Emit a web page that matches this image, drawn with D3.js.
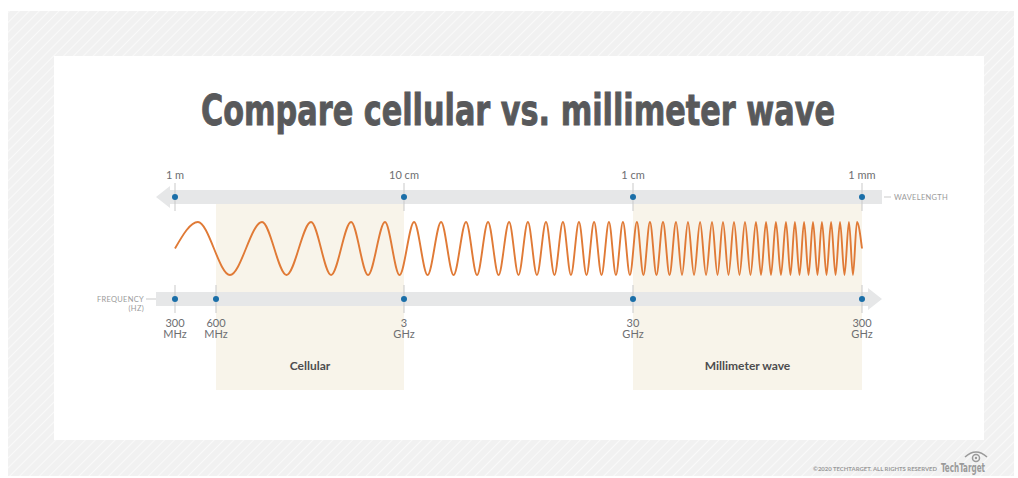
<!DOCTYPE html>
<html><head><meta charset="utf-8">
<script src="https://cdn.jsdelivr.net/npm/d3@7"></script>
<style>html,body{margin:0;padding:0;background:#fff;}svg{display:block;}</style>
</head><body>
<script>
// ---- data ----
const title = "Compare cellular vs. millimeter wave";
const wavelengthLabels = ["1 m", "10 cm", "1 cm", "1 mm"];
const wavelengthFreqs = [3e8, 3e9, 3e10, 3e11];           // Hz equivalent of each wavelength
const freqValues = [3e8, 6e8, 3e9, 3e10, 3e11];
const freqLabelTop = ["300", "600", "3", "30", "300"];
const freqLabelBottom = ["MHz", "MHz", "GHz", "GHz", "GHz"];
const bandNames = ["Cellular", "Millimeter wave"];
const bandFrom = [6e8, 3e10];
const bandTo = [3e9, 3e11];
// wave crest positions, in decades above 300 MHz
const wavePeaks = [0.100, 0.380, 0.594, 0.769, 0.917, 1.044, 1.162, 1.271, 1.367, 1.459, 1.541, 1.620,
  1.694, 1.764, 1.830, 1.895, 1.956, 2.017, 2.074, 2.131, 2.188, 2.240, 2.293, 2.345, 2.393, 2.441,
  2.489, 2.537, 2.581, 2.624, 2.668, 2.707, 2.747, 2.786, 2.825, 2.865, 2.904, 2.943, 2.978];

const W = 1018, H = 478;
const svg = d3.select("body").append("svg").attr("width", W).attr("height", H);
const defs = svg.append("defs");
const pat = defs.append("pattern").attr("id", "hatch").attr("patternUnits", "userSpaceOnUse")
  .attr("width", 7).attr("height", 7).attr("patternTransform", "rotate(45)");
pat.append("rect").attr("width", 7).attr("height", 7).attr("fill", "#f1f1f1");
pat.append("line").attr("x1", 0).attr("y1", 0).attr("x2", 0).attr("y2", 7)
  .attr("stroke", "#f9f9f9").attr("stroke-width", 2);

svg.append("rect").attr("x", 8).attr("y", 11).attr("width", 1006).attr("height", 465).attr("fill", "url(#hatch)");
svg.append("rect").attr("x", 54).attr("y", 56).attr("width", 930).attr("height", 384).attr("fill", "#fff");

svg.append("text").attr("x", 518).attr("y", 125).attr("text-anchor", "middle")
  .attr("font-family", "'Liberation Sans Narrow','DejaVu Sans Condensed','Roboto',sans-serif")
  .attr("font-weight", "bold").attr("font-size", 43).attr("fill", "#58595b")
  .attr("stroke", "#58595b").attr("stroke-width", 0.9)
  .attr("textLength", 634).attr("lengthAdjust", "spacingAndGlyphs").text(title);

const x = d3.scaleLog().domain(freqValues).range([175, 216, 404, 633, 862]);
const xDec = d3.scaleLinear().domain([0, 3]).range([x(3e8), x(3e11)]);
const yW = d3.scaleLinear().domain([-1, 1]).range([275, 222]);

const font = "Lato, 'Open Sans', sans-serif";
const topY = 197, botY = 299;

// bands
const bands = bandNames.map((n, i) => ({ name: n, from: bandFrom[i], to: bandTo[i] }));
svg.selectAll("rect.band").data(bands).join("rect").attr("class", "band")
  .attr("x", d => x(d.from)).attr("width", d => x(d.to) - x(d.from))
  .attr("y", 204).attr("height", 186).attr("fill", "#f8f4ea");
svg.selectAll("text.band").data(bands).join("text").attr("class", "band")
  .attr("x", d => (x(d.from) + x(d.to)) / 2).attr("y", 370).attr("text-anchor", "middle")
  .attr("font-family", font).attr("font-weight", "bold").attr("font-size", 12).attr("fill", "#4d4d4f")
  .text(d => d.name);

// top bar (arrow left)
const barC = "#e6e7e8";
svg.append("path").attr("fill", barC)
  .attr("d", `M156,${topY} L170,${topY - 11} L170,${topY - 7} L882,${topY - 7} L882,${topY + 7} L170,${topY + 7} L170,${topY + 11} Z`);
// bottom bar (arrow right)
svg.append("path").attr("fill", barC)
  .attr("d", `M156,${botY - 7} L868,${botY - 7} L868,${botY - 11} L882,${botY} L868,${botY + 11} L868,${botY + 7} L156,${botY + 7} Z`);

// tick lines
const tickC = "#c9c9c9";
svg.selectAll("line.tt").data(wavelengthFreqs).join("line").attr("class", "tt")
  .attr("x1", d => x(d)).attr("x2", d => x(d)).attr("y1", 183).attr("y2", 211)
  .attr("stroke", tickC).attr("stroke-width", 1);
svg.selectAll("line.bt").data(freqValues).join("line").attr("class", "bt")
  .attr("x1", d => x(d)).attr("x2", d => x(d)).attr("y1", 285).attr("y2", 313)
  .attr("stroke", tickC).attr("stroke-width", 1);

// dots
const dotC = "#1a6ea8";
svg.selectAll("circle.td").data(wavelengthFreqs).join("circle").attr("class", "td")
  .attr("cx", d => x(d)).attr("cy", topY).attr("r", 3).attr("fill", dotC);
svg.selectAll("circle.bd").data(freqValues).join("circle").attr("class", "bd")
  .attr("cx", d => x(d)).attr("cy", botY).attr("r", 3).attr("fill", dotC);

// labels
const labC = "#6d6e71";
svg.selectAll("text.tl").data(wavelengthFreqs).join("text").attr("class", "tl")
  .attr("x", d => x(d)).attr("y", 179).attr("text-anchor", "middle")
  .attr("font-family", font).attr("font-size", 11).attr("fill", labC)
  .text((d, i) => wavelengthLabels[i]);
const bl = svg.selectAll("text.bl").data(freqValues).join("text").attr("class", "bl")
  .attr("text-anchor", "middle").attr("font-family", font).attr("font-size", 11).attr("fill", labC);
bl.append("tspan").attr("x", d => x(d)).attr("y", 327).text((d, i) => freqLabelTop[i]);
bl.append("tspan").attr("x", d => x(d)).attr("y", 338).text((d, i) => freqLabelBottom[i]);

// axis names
svg.append("line").attr("x1", 884).attr("x2", 891).attr("y1", topY).attr("y2", topY).attr("stroke", "#c9c9c9");
svg.append("text").attr("x", 894).attr("y", topY + 3).attr("font-family", font).attr("font-size", 7.5)
  .attr("fill", "#9a9a9a").attr("letter-spacing", 0.3).text("WAVELENGTH");
svg.append("line").attr("x1", 146).attr("x2", 156).attr("y1", botY).attr("y2", botY).attr("stroke", "#c9c9c9");
svg.append("text").attr("x", 144).attr("y", botY + 3).attr("text-anchor", "end").attr("font-family", font)
  .attr("font-size", 7.5).attr("fill", "#9a9a9a").attr("letter-spacing", 0.3).text("FREQUENCY");
svg.append("text").attr("x", 144).attr("y", botY + 12).attr("text-anchor", "end").attr("font-family", font)
  .attr("font-size", 7.5).attr("fill", "#9a9a9a").attr("letter-spacing", 0.3).text("(HZ)");

// wave
const pts = [[0, 0]];
wavePeaks.forEach((p, i) => {
  pts.push([p, 1]);
  if (i < wavePeaks.length - 1) pts.push([(p + wavePeaks[i + 1]) / 2, -1]);
});
pts.push([3, 0]);
svg.append("path").datum(pts).attr("fill", "none").attr("stroke", "#e07a36").attr("stroke-width", 1.9)
  .attr("d", d3.line().x(d => xDec(d[0])).y(d => yW(d[1])).curve(d3.curveMonotoneX));

// footer
svg.append("text").attr("x", 937).attr("y", 471).attr("text-anchor", "end").attr("font-family", font)
  .attr("font-weight", "bold").attr("font-size", 6).attr("fill", "#9a9a9a")
  .attr("textLength", 124).attr("lengthAdjust", "spacingAndGlyphs").text("©2020 TECHTARGET. ALL RIGHTS RESERVED");
svg.append("text").attr("x", 985).attr("y", 472).attr("text-anchor", "end")
  .attr("font-family", "'DejaVu Sans Condensed',sans-serif").attr("font-weight", "bold")
  .attr("font-size", 12).attr("fill", "#9a9a9a").attr("textLength", 44).attr("lengthAdjust", "spacingAndGlyphs").text("TechTarget");
svg.append("path").attr("d", "M965,457 Q976,447 987,457").attr("fill", "none").attr("stroke", "#9a9a9a").attr("stroke-width", 1.5);
svg.append("circle").attr("cx", 976).attr("cy", 458).attr("r", 3.5).attr("fill", "none").attr("stroke", "#9a9a9a").attr("stroke-width", 1.5);
svg.append("circle").attr("cx", 976).attr("cy", 458).attr("r", 1.2).attr("fill", "#9a9a9a");
</script>
</body></html>
